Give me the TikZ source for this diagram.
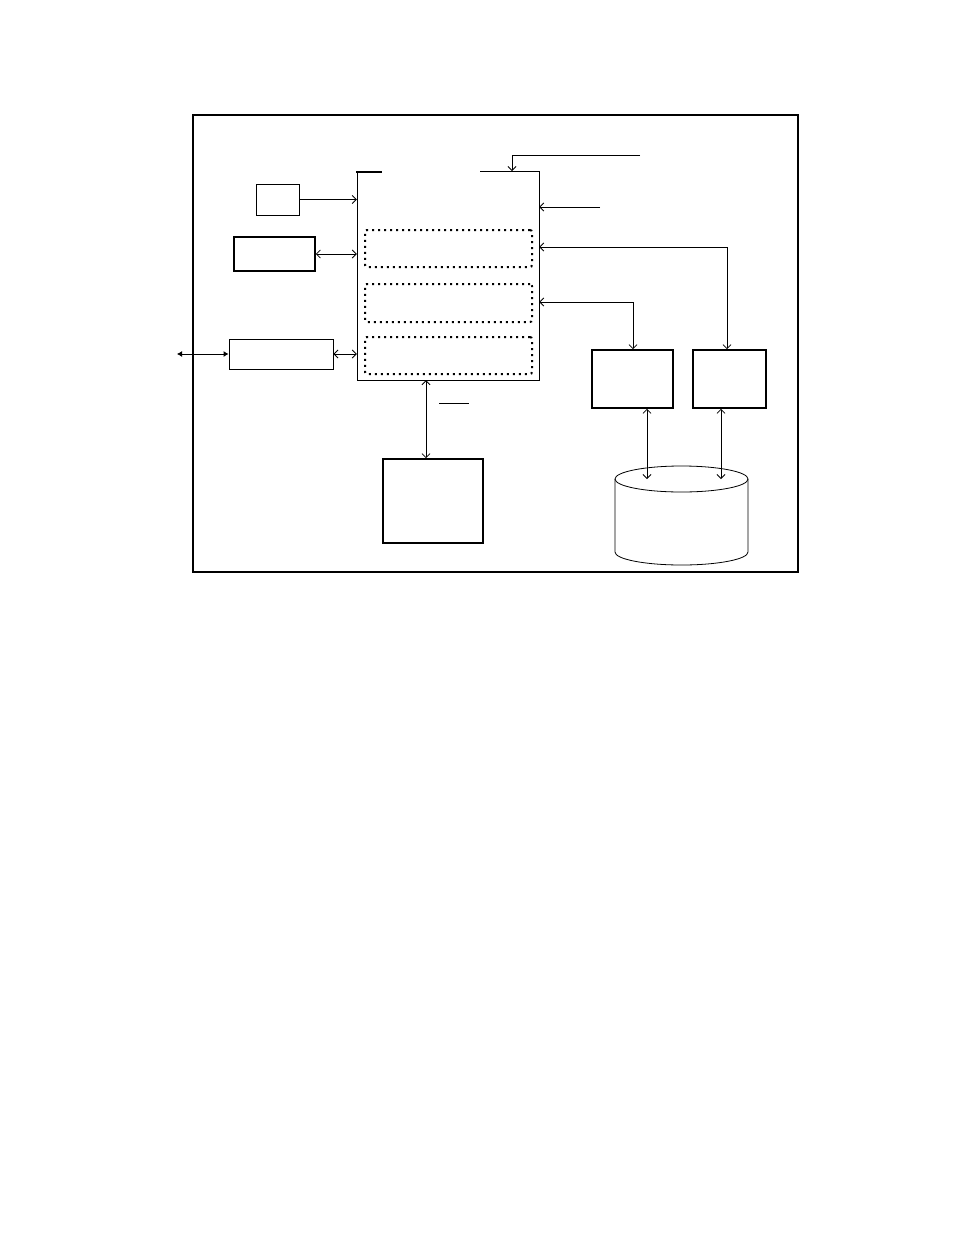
\documentclass[tikz,border=0pt]{standalone}
\usepackage{tikz}
\usetikzlibrary{arrows.meta, positioning, calc}

\begin{document}
\begin{tikzpicture}[x=1pt, y=-1pt,
  box/.style={rectangle, draw, line width=0.9pt, inner sep=0pt},
  heavybox/.style={rectangle, draw, line width=1.7pt, inner sep=0pt},
  slot/.style={rectangle, draw, rounded corners=2pt, line width=2pt,
               dash pattern=on 2pt off 4pt, inner sep=0pt},
  link/.style={-{Straight Barb[length=4pt, width=8pt]}, line width=0.8pt},
  dlink/.style={{Straight Barb[length=4pt, width=8pt]}-{Straight Barb[length=4pt, width=8pt]}, line width=0.8pt},
  bus/.style={{Latex[length=5pt, width=6pt]}-{Latex[length=5pt, width=6pt]}, line width=0.9pt}
]
\useasboundingbox (0,0) rectangle (954,1235);

% outer frame
\draw[line width=1.7pt] (193,115) rectangle (798,572);

% main unit
\node[inner sep=0pt, minimum width=182pt, minimum height=209pt] (cpu) at (448,275.5) {};
\draw[line width=0.9pt] (480,171) -- (539,171) -- (539,380) -- (357,380) -- (357,172);
\draw[line width=1.7pt] (356.2,172) -- (382,172);

\node[slot, minimum width=167pt, minimum height=37pt] (S1) at (448.5,248.5) {};
\node[slot, minimum width=167pt, minimum height=38pt] (S2) at (448.5,303) {};
\node[slot, minimum width=167pt, minimum height=37pt] (S3) at (448.5,355.5) {};

% left side blocks
\node[box, minimum width=43pt, minimum height=31pt] (B1) at (277.5,199.5) {};
\node[heavybox, minimum width=81pt, minimum height=34pt] (B2) at (274.5,254) {};
\node[box, minimum width=104pt, minimum height=30pt] (B3) at (281,354) {};

% right side blocks
\node[heavybox, minimum width=81pt, minimum height=58pt] (B4) at (632.5,379) {};
\node[heavybox, minimum width=73pt, minimum height=58pt] (B5) at (729.5,379) {};

% bottom block
\node[heavybox, minimum width=100pt, minimum height=84pt] (B6) at (433,501) {};

% storage
\coordinate (db) at (681.5,479);
\draw[line width=0.8pt] (615,479) -- (615,552)
  arc[start angle=180, end angle=360, x radius=66.5pt, y radius=13pt] -- (748,479);
\draw[line width=0.8pt] (db) ellipse [x radius=66.5pt, y radius=13pt];

\coordinate (ext) at (177,354);
\coordinate (tin) at (640,155);
\coordinate (tdrop) at (512,171);
\coordinate (rin) at (600,207);

\draw[link] (B1.east) -- (B1.east -| cpu.west);
\draw[dlink] (B2.east) -- (B2.east -| cpu.west);
\draw[dlink] (B3.east) -- (B3.east -| cpu.west);
\draw[bus] (ext) -- (B3.west);

\draw[link] (tin) -| (tdrop);
\draw[link] (rin) -- (rin -| cpu.east);
\draw[dlink] ([xshift=-2.5pt]B5.north) |- ([yshift=1.5pt]S1.east -| cpu.east);
\draw[dlink] ([xshift=0.5pt]B4.north) |- ([yshift=1pt]S2.east -| cpu.east);

\draw[dlink] ([xshift=-7pt]B6.north |- cpu.south) -- ([xshift=-7pt]B6.north);
\draw[dlink] ([xshift=14.5pt]B4.south) -- ([xshift=14.5pt]B4.south |- db);
\draw[dlink] ([xshift=-8.5pt]B5.south) -- ([xshift=-8.5pt]B5.south |- db);

\draw[line width=0.9pt] (439,403) -- (469,403);
\end{tikzpicture}
\end{document}
